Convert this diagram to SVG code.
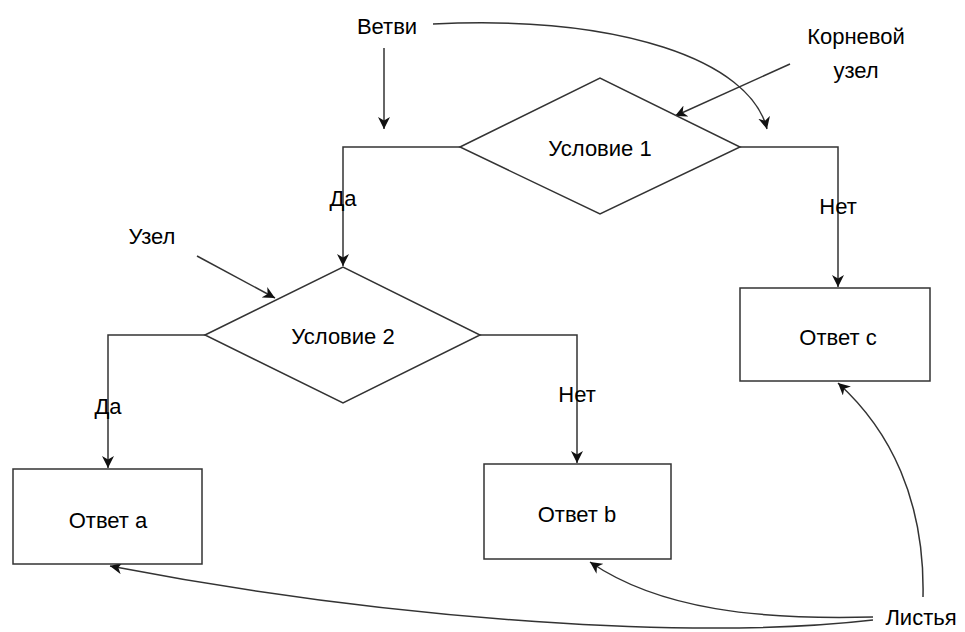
<svg xmlns="http://www.w3.org/2000/svg" width="965" height="632" viewBox="0 0 965 632">
<defs>
<style>
text{font-family:"Liberation Sans",Arial,sans-serif;font-size:22px;fill:#000;text-anchor:middle;dominant-baseline:central}
.s{fill:#fff;stroke:#333;stroke-width:1.5}
.c{fill:none;stroke:#333;stroke-width:1.5}
</style>
<marker id="a" viewBox="0 0 10 10" refX="10" refY="5" markerWidth="12" markerHeight="12" markerUnits="userSpaceOnUse" orient="auto"><path d="M0,0 L10,5 L0,10 L3,5 z" fill="#111"/></marker>
</defs>
<rect width="965" height="632" fill="#fff"/>
<g id="connectors">
<path class="c" d="M460,147 H343 V266" marker-end="url(#a)"/>
<path class="c" d="M740,147 H838 V287" marker-end="url(#a)"/>
<path class="c" d="M205,335 H108 V468" marker-end="url(#a)"/>
<path class="c" d="M480,335 H577 V463" marker-end="url(#a)"/>
<path class="c" d="M384,48 V129" marker-end="url(#a)"/>
<path class="c" d="M433,24 C620,15 750,60 767,129" marker-end="url(#a)"/>
<path class="c" d="M790,64 L675,116" marker-end="url(#a)"/>
<path class="c" d="M197,256 L275,298" marker-end="url(#a)"/>
<path class="c" d="M923,597 C925,500 890,430 838,383" marker-end="url(#a)"/>
<path class="c" d="M873,617 C760,620 660,610 590,562" marker-end="url(#a)"/>
<path class="c" d="M873,620 C700,640 400,622 110,566" marker-end="url(#a)"/>
</g>
<g id="cond1"><polygon class="s" points="460,147 600,78 740,147 600,214"/><text x="600" y="148">Условие 1</text></g>
<g id="cond2"><polygon class="s" points="205,335 343,267 480,335 343,403"/><text x="343" y="336">Условие 2</text></g>
<g id="ansA"><rect class="s" x="13" y="469" width="189" height="95"/><text x="108" y="520">Ответ a</text></g>
<g id="ansB"><rect class="s" x="484" y="464" width="187" height="95"/><text x="577" y="514">Ответ b</text></g>
<g id="ansC"><rect class="s" x="740" y="288" width="190" height="93"/><text x="838" y="337">Ответ c</text></g>
<g id="labels">
<text x="387" y="26">Ветви</text>
<text x="856" y="36">Корневой</text>
<text x="856" y="70">узел</text>
<text x="343" y="198">Да</text>
<text x="838" y="206">Нет</text>
<text x="152" y="236">Узел</text>
<text x="108" y="406">Да</text>
<text x="577" y="394">Нет</text>
<text x="921" y="617">Листья</text>
</g>
</svg>
